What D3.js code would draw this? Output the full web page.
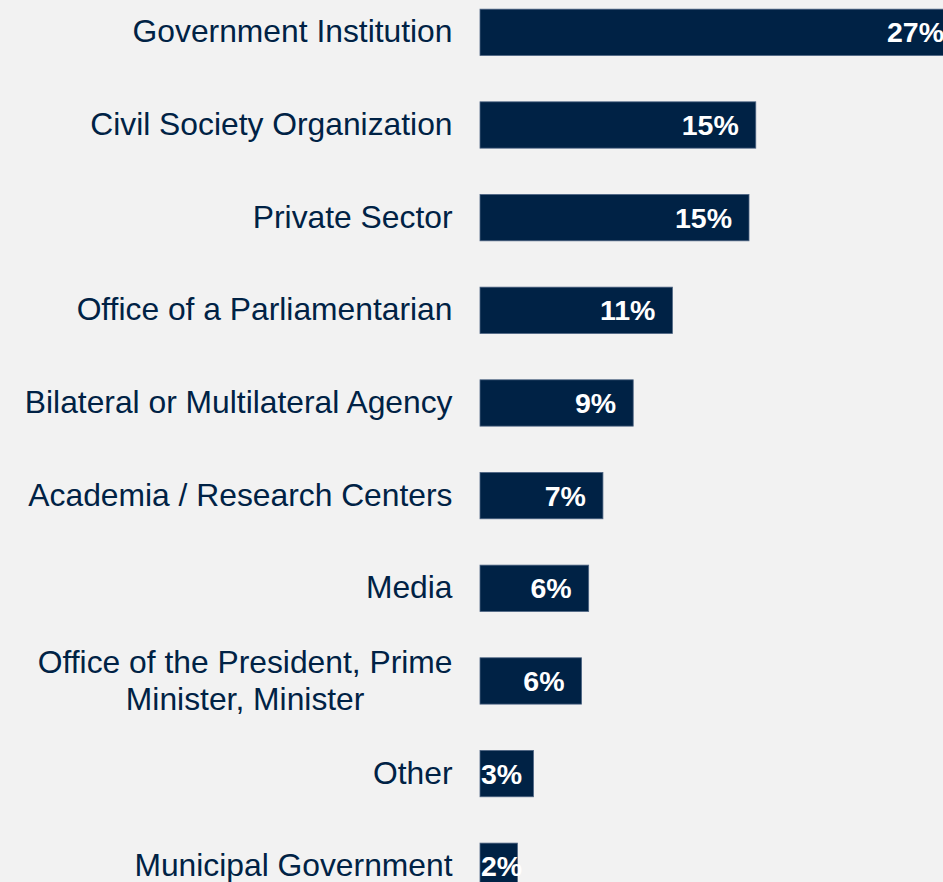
<!DOCTYPE html>
<html>
<head>
<meta charset="utf-8">
<script src="https://cdn.jsdelivr.net/npm/d3@7"></script>
<style>
  html, body { margin: 0; padding: 0; background: #f2f2f2; overflow: hidden; }
</style>
</head>
<body>
<div id="chart"></div>
<script>
var categories = [
  'Government Institution',
  'Civil Society Organization',
  'Private Sector',
  'Office of a Parliamentarian',
  'Bilateral or Multilateral Agency',
  'Academia / Research Centers',
  'Media',
  'Office of the President, Prime|Minister, Minister',
  'Other',
  'Municipal Government'
];
var shares = [27.0, 15.48, 15.1, 10.8, 8.6, 6.9, 6.1, 5.7, 3.0, 2.1];

var width = 943, height = 882;
var navy = '#002245';

var svg = d3.select('#chart').append('svg')
            .attr('width', width)
            .attr('height', height);

svg.append('rect')
   .attr('width', width)
   .attr('height', height)
   .attr('fill', '#f2f2f2');

var x = d3.scaleLinear()
          .domain([0, 27])
          .range([480, 961]);

var y = d3.scaleBand()
          .domain(categories)
          .range([-14, 912.6])
          .paddingInner(0.5)
          .paddingOuter(0.25);

var rows = categories.map(function(c, i) { return { cat: c, value: shares[i] }; });

// bars
svg.append('g').selectAll('rect')
   .data(rows)
   .enter()
   .append('rect')
   .attr('x', x(0))
   .attr('y', function(d) { return y(d.cat); })
   .attr('width', function(d) { return x(d.value) - x(0); })
   .attr('height', y.bandwidth())
   .attr('fill', navy)
   .attr('stroke', '#4d6483')
   .attr('stroke-width', 0.8);

// category labels (block right-aligned, lines centred within block)
var catGroup = svg.append('g')
                  .attr('font-family', '"Liberation Sans", Arial, sans-serif')
                  .attr('font-size', '31.8px')
                  .attr('fill', navy);

rows.forEach(function(d) {
  var lines = d.cat.split('|');
  var cy = y(d.cat) + y.bandwidth() / 2 - 1;
  var lineH = 37;
  var g = catGroup.append('g');
  var texts = g.selectAll('text')
               .data(lines)
               .enter()
               .append('text')
               .attr('text-anchor', 'middle')
               .attr('y', function(l, i) { return cy + (i - (lines.length - 1) / 2) * lineH; })
               .attr('dy', '0.35em')
               .text(function(l) { return l; });
  var maxW = d3.max(texts.nodes(), function(n) { return n.getComputedTextLength(); });
  texts.attr('x', 452.5 - maxW / 2);
});

// value labels inside bar end
var fmt = d3.format('.0f');
svg.append('g').selectAll('text')
   .data(rows)
   .enter()
   .append('text')
   .attr('font-family', '"Liberation Sans", Arial, sans-serif')
   .attr('font-size', '28.5px')
   .attr('font-weight', 'bold')
   .attr('fill', '#ffffff')
   .attr('y', function(d) { return y(d.cat) + y.bandwidth() / 2; })
   .attr('dy', '0.35em')
   .text(function(d) { return fmt(d.value) + '%'; })
   .attr('x', function(d) {
     var w = this.getComputedTextLength();
     return Math.max(x(0) + 1, x(d.value) - 17 - w);
   });
</script>
</body>
</html>
